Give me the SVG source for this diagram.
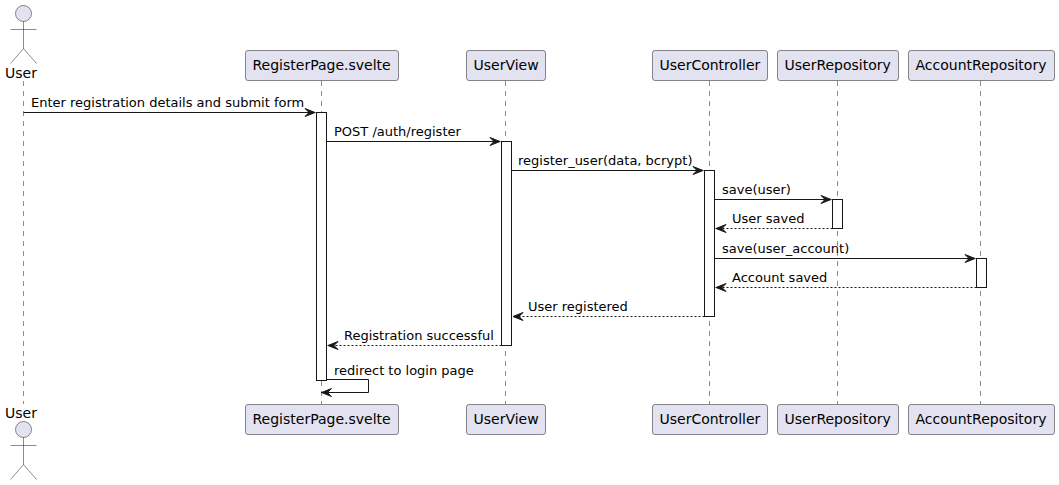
<svg xmlns="http://www.w3.org/2000/svg" width="1059" height="485" viewBox="0 0 1059 485">
<style>
text{font-family:"DejaVu Sans",sans-serif;fill:#000}
.p{font-size:14px}
.m{font-size:13px}
.box{fill:#E2E2F0;stroke:#181818;stroke-width:.5}
.act{fill:#fff;stroke:#181818;stroke-width:1}
.life{stroke:#181818;stroke-width:.5;stroke-dasharray:5,5;fill:none}
.msg{stroke:#181818;stroke-width:1;fill:none;marker-end:url(#arrow)}
.ret{stroke-dasharray:2,2}
.fig{fill:none;stroke:#181818;stroke-width:.5}
.head{fill:#E2E2F0;stroke:#181818;stroke-width:.5}
</style>
<defs>
<marker id="arrow" markerUnits="userSpaceOnUse" markerWidth="14" markerHeight="14" refX="12" refY="7" orient="auto">
<path d="M1.5,3 L11.5,7 L1.5,11 L5.5,7 Z" fill="#181818" stroke="#181818" stroke-width="1"/>
</marker>
</defs>
<g id="lifelines">
<line class="life" x1="23.5" y1="81" x2="23.5" y2="404"/>
<line class="life" x1="321.5" y1="81" x2="321.5" y2="404"/>
<line class="life" x1="505.5" y1="81" x2="505.5" y2="404"/>
<line class="life" x1="709.5" y1="81" x2="709.5" y2="404"/>
<line class="life" x1="837.5" y1="81" x2="837.5" y2="404"/>
<line class="life" x1="980.5" y1="81" x2="980.5" y2="404"/>
</g>
<g id="activations">
<rect class="act" x="316.5" y="112.5" width="10" height="268"/>
<rect class="act" x="501.5" y="141.5" width="10" height="204"/>
<rect class="act" x="704.5" y="170.5" width="10" height="146"/>
<rect class="act" x="832.5" y="199.5" width="10" height="29"/>
<rect class="act" x="976.5" y="258.5" width="10" height="29"/>
</g>
<g id="connectors">
<line class="msg" x1="23.5" y1="112.5" x2="315.5" y2="112.5"/>
<line class="msg" x1="326.5" y1="141.5" x2="500.5" y2="141.5"/>
<line class="msg" x1="511.5" y1="170.5" x2="703.5" y2="170.5"/>
<line class="msg" x1="714.5" y1="199.5" x2="831.5" y2="199.5"/>
<line class="msg ret" x1="832.5" y1="228.5" x2="715.5" y2="228.5"/>
<line class="msg" x1="714.5" y1="258.5" x2="975.5" y2="258.5"/>
<line class="msg ret" x1="976.5" y1="287.5" x2="715.5" y2="287.5"/>
<line class="msg ret" x1="704.5" y1="316.5" x2="512.5" y2="316.5"/>
<line class="msg ret" x1="501.5" y1="345.5" x2="327.5" y2="345.5"/>
<path class="msg" d="M326.5,379.5 H368.5 V392.5 H321"/>
<text class="m" x="31" y="107">Enter registration details and submit form</text>
<text class="m" x="334" y="136">POST /auth/register</text>
<text class="m" x="518" y="165">register_user(data, bcrypt)</text>
<text class="m" x="722" y="194">save(user)</text>
<text class="m" x="732" y="223">User saved</text>
<text class="m" x="722" y="253">save(user_account)</text>
<text class="m" x="732" y="282">Account saved</text>
<text class="m" x="528" y="311">User registered</text>
<text class="m" x="344" y="340">Registration successful</text>
<text class="m" x="334" y="375">redirect to login page</text>
</g>
<g id="user">
<text class="p" x="5" y="78">User</text>
<circle class="head" cx="23.5" cy="13.5" r="8"/>
<path class="fig" d="M23.5,21.5 V48.5 M10.5,29.5 H36.5 M23.5,48.5 L10.5,63.5 M23.5,48.5 L36.5,63.5"/>
<text class="p" x="5" y="418">User</text>
<circle class="head" cx="23.5" cy="429.5" r="8"/>
<path class="fig" d="M23.5,437.5 V464.5 M10.5,445.5 H36.5 M23.5,464.5 L10.5,479.5 M23.5,464.5 L36.5,479.5"/>
</g>
<g id="registerpage">
<rect class="box" x="245.5" y="50.5" width="153" height="30" rx="2.5"/>
<text class="p" x="252.5" y="70">RegisterPage.svelte</text>
<rect class="box" x="245.5" y="404.5" width="153" height="30" rx="2.5"/>
<text class="p" x="252.5" y="424">RegisterPage.svelte</text>
</g>
<g id="userview">
<rect class="box" x="466.5" y="50.5" width="79" height="30" rx="2.5"/>
<text class="p" x="473.5" y="70">UserView</text>
<rect class="box" x="466.5" y="404.5" width="79" height="30" rx="2.5"/>
<text class="p" x="473.5" y="424">UserView</text>
</g>
<g id="usercontroller">
<rect class="box" x="652.5" y="50.5" width="115" height="30" rx="2.5"/>
<text class="p" x="659.5" y="70">UserController</text>
<rect class="box" x="652.5" y="404.5" width="115" height="30" rx="2.5"/>
<text class="p" x="659.5" y="424">UserController</text>
</g>
<g id="userrepository">
<rect class="box" x="777.5" y="50.5" width="121" height="30" rx="2.5"/>
<text class="p" x="784.5" y="70">UserRepository</text>
<rect class="box" x="777.5" y="404.5" width="121" height="30" rx="2.5"/>
<text class="p" x="784.5" y="424">UserRepository</text>
</g>
<g id="accountrepository">
<rect class="box" x="908.5" y="50.5" width="146" height="30" rx="2.5"/>
<text class="p" x="915.5" y="70">AccountRepository</text>
<rect class="box" x="908.5" y="404.5" width="146" height="30" rx="2.5"/>
<text class="p" x="915.5" y="424">AccountRepository</text>
</g>
</svg>
